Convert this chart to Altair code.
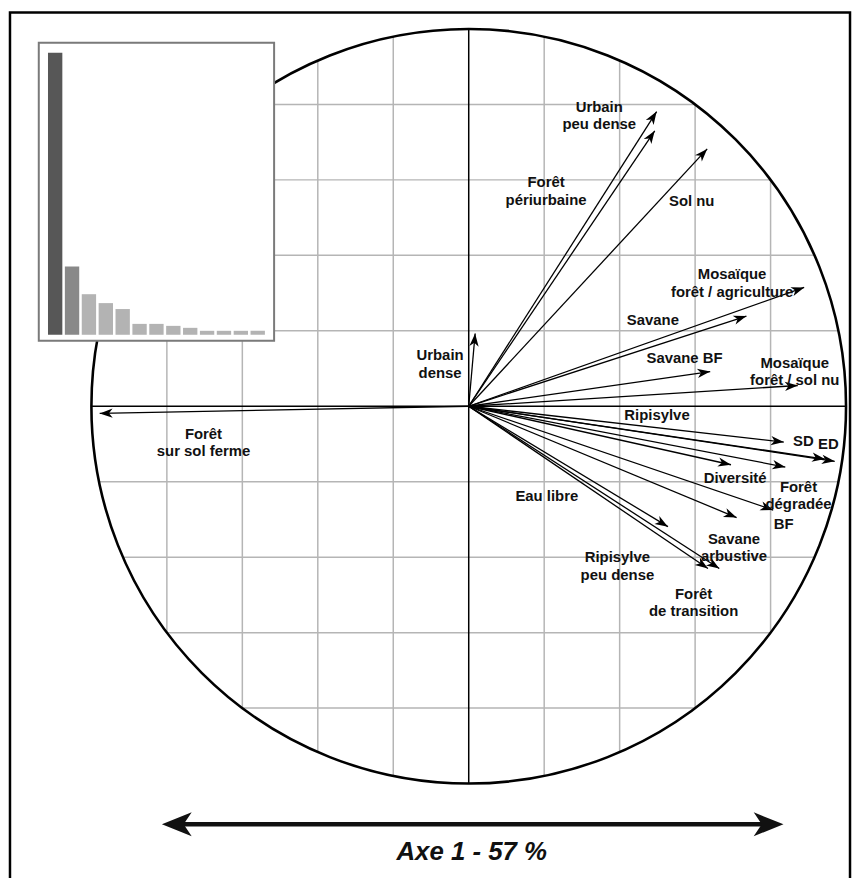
import altair as alt
import numpy as np
import pandas as pd

# ---- data ----
variables = ["Urbain\npeu dense", "Forêt\npériurbaine", "Sol nu", "Mosaïque\nforêt / agriculture",
             "Savane", "Savane BF", "Mosaïque\nforêt / sol nu", "Urbain\ndense", "Forêt\nsur sol ferme",
             "Ripisylve", "SD", "ED", "Diversité", "Forêt\ndégradée", "Eau libre", "BF",
             "Savane\narbustive", "Ripisylve\npeu dense", "Forêt\nde transition"]
axis1 = [0.498, 0.493, 0.632, 0.889, 0.736, 0.640, 0.872, 0.017, -0.978,
         0.944, 0.835, 0.970, 0.695, 0.839, 0.528, 0.807, 0.710, 0.634, 0.664]
axis2 = [0.781, 0.730, 0.682, 0.315, 0.239, 0.092, 0.055, 0.193, -0.019,
         -0.140, -0.095, -0.146, -0.155, -0.161, -0.319, -0.275, -0.295, -0.430, -0.430]
label_x = [0.346, 0.205, 0.591, 0.698, 0.488, 0.572, 0.864, -0.076, -0.703,
           0.499, 0.887, 0.953, 0.706, 0.874, 0.207, 0.835, 0.703, 0.394, 0.596]
label_y = [0.793, 0.593, 0.543, 0.350, 0.228, 0.129, 0.115, 0.135, -0.073,
           -0.024, -0.092, -0.100, -0.189, -0.214, -0.239, -0.312, -0.352, -0.400, -0.497]

eigen_rank = list(range(1, 14))
eigen_pct = [57, 13.8, 8.2, 6.4, 5.2, 2.2, 2.2, 1.8, 1.4, 0.8, 0.8, 0.8, 0.8]
bar_colors = ["#575757", "#898989"] + ["#b3b3b3"] * 11

grid_ticks = [-0.8, -0.6, -0.4, -0.2, 0.2, 0.4, 0.6, 0.8]

FONT = "Liberation Sans"

# ---- scales (unit circle) ----
X = alt.Scale(domain=[-1, 1], range=[84, 844], nice=False, zero=False)
Y = alt.Scale(domain=[-1, 1], range=[778, 18], nice=False, zero=False)

vars_df = pd.DataFrame({"var": variables, "a1": axis1, "a2": axis2,
                        "lx": label_x, "ly": label_y})
vars_df["x0"] = 0.0
vars_df["y0"] = 0.0
vars_df["bearing"] = (np.degrees(np.arctan2(vars_df["a1"], vars_df["a2"])) + 360) % 360

g = np.array(grid_ticks)
half = np.sqrt(1 - g ** 2)
vgrid = pd.DataFrame({"gx": g, "gy1": -half, "gy2": half})
hgrid = pd.DataFrame({"gy": g, "gx1": -half, "gx2": half})

vlines = alt.Chart(vgrid).mark_rule(color="#b5b5b5", strokeWidth=1.5).encode(
    x=alt.X("gx:Q", scale=X, axis=None), y=alt.Y("gy1:Q", scale=Y, axis=None), y2="gy2:Q")
hlines = alt.Chart(hgrid).mark_rule(color="#b5b5b5", strokeWidth=1.5).encode(
    y=alt.Y("gy:Q", scale=Y, axis=None), x=alt.X("gx1:Q", scale=X, axis=None), x2="gx2:Q")

axes_df = pd.DataFrame({"x1": [-1.0, 0.0], "x2": [1.0, 0.0], "y1": [0.0, -1.0], "y2": [0.0, 1.0]})
main_axes = alt.Chart(axes_df).mark_rule(color="black", strokeWidth=1.5).encode(
    x=alt.X("x1:Q", scale=X, axis=None), x2="x2:Q",
    y=alt.Y("y1:Q", scale=Y, axis=None), y2="y2:Q")

center = pd.DataFrame({"cx": [0.0], "cy": [0.0]})
circle = alt.Chart(center).mark_arc(radius=380, theta=0, theta2=2 * np.pi, fillOpacity=0,
                                    stroke="black", strokeWidth=2.6).encode(
    x=alt.X("cx:Q", scale=X, axis=None), y=alt.Y("cy:Q", scale=Y, axis=None))

shafts = alt.Chart(vars_df).mark_rule(color="black", strokeWidth=1.3).encode(
    x=alt.X("x0:Q", scale=X, axis=None), y=alt.Y("y0:Q", scale=Y, axis=None),
    x2="a1:Q", y2="a2:Q")

small_head = "M0,0L0.36,1L0,0.72L-0.36,1Z"
heads = alt.Chart(vars_df).mark_point(shape=small_head, size=676, filled=True,
                                      color="black", opacity=1, strokeWidth=0).encode(
    x=alt.X("a1:Q", scale=X, axis=None), y=alt.Y("a2:Q", scale=Y, axis=None),
    angle=alt.Angle("bearing:Q", scale=None))

labels = alt.Chart(vars_df).mark_text(font=FONT, fontWeight="bold", fontSize=15,
                                      lineHeight=17.5, lineBreak="\n", align="center",
                                      baseline="middle", color="#111111").encode(
    x=alt.X("lx:Q", scale=X, axis=None), y=alt.Y("ly:Q", scale=Y, axis=None), text="var:N")

# inset frame
inset_box = alt.Chart(center).mark_rect(fill="white", stroke="#7a7a7a", strokeWidth=2).encode(
    x=alt.value(31), x2=alt.value(268), y=alt.value(32), y2=alt.value(332))

# bottom double arrow and axis title
big_head = "M0,0L0.4,1L0,0.73L-0.4,1Z"
arrow_line = alt.Chart(center).mark_rule(color="#111111", strokeWidth=4.5).encode(
    x=alt.value(170), x2=alt.value(766), y=alt.value(819))
arrow_left = alt.Chart(center).mark_point(shape=big_head, size=3600, filled=True,
                                          color="#111111", opacity=1, strokeWidth=0).encode(
    x=alt.value(155), y=alt.value(819), angle=alt.value(270))
arrow_right = alt.Chart(center).mark_point(shape=big_head, size=3600, filled=True,
                                           color="#111111", opacity=1, strokeWidth=0).encode(
    x=alt.value(781), y=alt.value(819), angle=alt.value(90))
axis_title = alt.Chart(center).mark_text(font="Liberation Sans Narrow, Liberation Sans",
                                         fontWeight="bold", fontStyle="italic",
                                         fontSize=26, align="center", baseline="middle",
                                         color="#111111").encode(
    x=alt.value(467), y=alt.value(847), text=alt.value("Axe 1 - 57 %"))

frame = alt.Chart(center).mark_rect(fillOpacity=0, stroke="black", strokeWidth=2.5).encode(
    x=alt.value(2), x2=alt.value(848), y=alt.value(1.5), y2=alt.value(920))

main = alt.layer(vlines, hlines, main_axes, shafts, heads, labels, circle, inset_box,
                 arrow_line, arrow_left, arrow_right, axis_title, frame)

eig_df = pd.DataFrame({"rank": eigen_rank, "pct": eigen_pct})
bars = alt.Chart(eig_df).mark_bar().encode(
    x=alt.X("rank:O", scale=alt.Scale(range=[39, 260], paddingInner=0.15, paddingOuter=0.075),
            axis=None),
    y=alt.Y("pct:Q", scale=alt.Scale(domain=[0, 57], range=[326, 42], nice=False), axis=None),
    color=alt.Color("rank:O", scale=alt.Scale(domain=eigen_rank, range=bar_colors), legend=None))

chart = alt.layer(main, bars).resolve_scale(x="independent", y="independent").properties(
    width=850, height=870, padding=0, autosize="none"
).configure_view(stroke=None)

chart.save("out.html", embed_options={"renderer": "svg", "actions": False})
